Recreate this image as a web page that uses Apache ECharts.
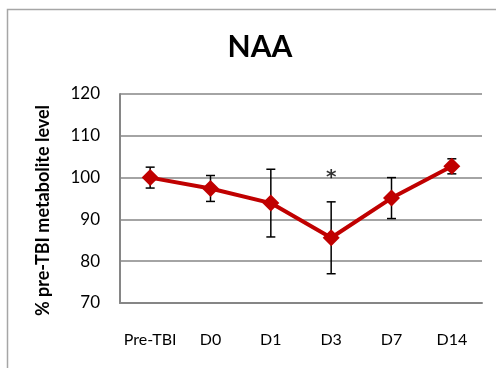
<!DOCTYPE html>
<html><head><meta charset="utf-8">
<script src="https://cdn.jsdelivr.net/npm/echarts@6/dist/echarts.min.js"></script>
<style>html,body{margin:0;padding:0;background:#fff}#c{width:496px;height:368px}</style>
</head><body><div id="c"></div>
<script>
const categories = ['Pre-TBI', 'D0', 'D1', 'D3', 'D7', 'D14'];
const naaMean = [100.0, 97.4, 93.9, 85.6, 95.1, 102.7];
const naaErr = [2.5, 3.1, 8.1, 8.6, 4.9, 1.8];
const starCategories = ['D3'];
const starValues = [100.0];
const yTicks = [70, 80, 90, 100, 110, 120];

const font = 'Lato, "Open Sans", sans-serif';
const chart = echarts.init(document.getElementById('c'));
chart.setOption({
  animation: false,
  title: {
    text: 'NAA', left: 255, top: 27, textAlign: 'center',
    textStyle: { fontFamily: font, fontSize: 30, fontWeight: 'bold', color: '#000' }
  },
  graphic: [{
    type: 'rect', left: 5, top: 7, shape: { width: 600, height: 500 },
    style: { fill: 'none', stroke: '#a6a6a6', lineWidth: 1.5 }, silent: true
  }],
  grid: { left: 120, right: 14, top: 94, bottom: 65 },
  xAxis: {
    type: 'category', data: categories, boundaryGap: true,
    axisLine: { lineStyle: { color: '#868686', width: 2 } },
    axisTick: { show: false },
    axisLabel: { color: '#000', fontFamily: font, fontSize: 16, margin: 29, interval: 0 }
  },
  yAxis: {
    type: 'value', min: yTicks[0], max: yTicks[yTicks.length - 1], interval: 10,
    name: '% pre-TBI metabolite level', nameLocation: 'middle', nameGap: 68,
    nameTextStyle: { color: '#000', fontFamily: font, fontSize: 18, fontWeight: 'bold', padding: [0, 24, 0, 0] },
    axisLine: { show: true, lineStyle: { color: '#868686', width: 2 } },
    axisTick: { show: false },
    axisLabel: { color: '#000', fontFamily: font, fontSize: 17, margin: 20 },
    splitLine: { lineStyle: { color: '#868686', width: 1.5 } }
  },
  series: [
    {
      type: 'custom', z: 3,
      data: categories.map((c, i) => [i, naaMean[i] - naaErr[i], naaMean[i] + naaErr[i]]),
      renderItem: function (params, api) {
        const lo = api.coord([api.value(0), api.value(1)]);
        const hi = api.coord([api.value(0), api.value(2)]);
        const w = 4.5;
        const st = { stroke: '#000', lineWidth: 1.5 };
        return { type: 'group', children: [
          { type: 'line', shape: { x1: lo[0], y1: lo[1], x2: hi[0], y2: hi[1] }, style: st },
          { type: 'line', shape: { x1: lo[0] - w, y1: lo[1], x2: lo[0] + w, y2: lo[1] }, style: st },
          { type: 'line', shape: { x1: hi[0] - w, y1: hi[1], x2: hi[0] + w, y2: hi[1] }, style: st }
        ]};
      }
    },
    {
      type: 'line', data: naaMean, z: 4,
      symbol: 'diamond', symbolSize: 17,
      lineStyle: { color: '#c00000', width: 4 },
      itemStyle: { color: '#c00000' }
    },
    {
      type: 'scatter', z: 5,
      data: starCategories.map((c, i) => [c, starValues[i]]),
      symbolSize: 0,
      label: { show: true, formatter: '*', position: 'inside', color: '#000',
        fontFamily: '"DejaVu Sans", sans-serif', fontSize: 20, fontWeight: 'bold' }
    }
  ]
});
</script></body></html>
